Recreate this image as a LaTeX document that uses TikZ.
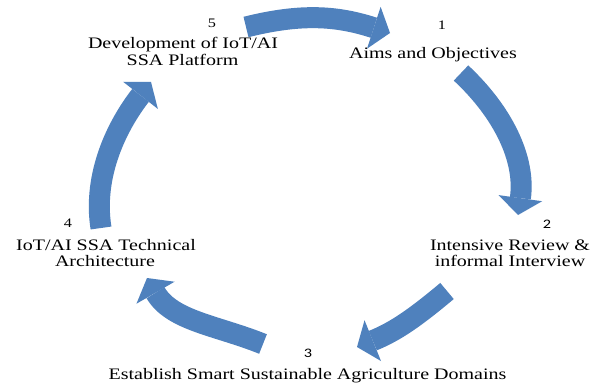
\documentclass[tikz,border=0pt]{standalone}
\usepackage{fontspec}
\setmainfont{Liberation Serif}[FakeStretch=1.25]
\newfontfamily\numsans{Carlito}[FakeStretch=1.25]
\usetikzlibrary{arrows.meta}
\definecolor{cyc}{RGB}{79,129,189}
\tikzset{
  cycarrow/.style={color=cyc, line width=21pt,
    -{Triangle[width=44pt,length=17pt,line width=0pt]}},
  lbl/.style={font=\fontsize{16}{17}\selectfont, anchor=base, inner sep=0pt},
  numserif/.style={font=\fontsize{13}{14}\selectfont, anchor=base, inner sep=0pt},
  numsans/.style={font=\numsans\fontsize{13}{14}\selectfont, anchor=base, inner sep=0pt},
}
\begin{document}
\begin{tikzpicture}[x=1pt,y=1pt]
\useasboundingbox[fill=white] (0,0) rectangle (601,386);

% numbers
\node[numserif] (n5) at (212,358.7) {5};
\node[numserif] (n1) at (442,356) {1};
\node[numsans]  (n2) at (547,157.7) {2};
\node[numsans]  (n3) at (308,28.3) {3};
\node[numserif] (n4) at (68,158.7) {4};

% labels
\node[lbl] (t5a) at (183,337) {Development of IoT/AI};
\node[lbl] (t5b) at (182.5,320) {SSA Platform};
\node[lbl] (t1)  at (433,327.7) {Aims and Objectives};
\node[lbl] (t2a) at (510,135.3) {Intensive Review \&};
\node[lbl] (t2b) at (510,119.3) {informal Interview};
\node[lbl] (t3)  at (307.5,7) {Establish Smart Sustainable Agriculture Domains};
\node[lbl] (t4a) at (106,136) {IoT/AI SSA Technical};
\node[lbl] (t4b) at (105,119.3) {Architecture};

% arrow end points
\coordinate (aS) at (246,359);
\coordinate (aE) at (390,353);
\coordinate (bS) at (461,313);
\coordinate (bE) at (518,171);
\coordinate (cS) at (447,95);
\coordinate (cE) at (357,39);
\coordinate (dS) at (263,42);
\coordinate (dE) at (147,108);
\coordinate (eS) at (101,158);
\coordinate (eE) at (151,304);

\draw[cycarrow] (aS) to[out=14,in=162] (aE);
\draw[cycarrow] (bS) to[out=-43,in=82,looseness=0.95] (bE);
\draw[cycarrow] (cS) to[out=220,in=22] (cE);
\draw[cycarrow] (dS) to[out=158,in=300,looseness=0.95] (dE);
\draw[cycarrow] (eS) to[out=99,in=232,looseness=0.9] (eE);
\end{tikzpicture}
\end{document}
